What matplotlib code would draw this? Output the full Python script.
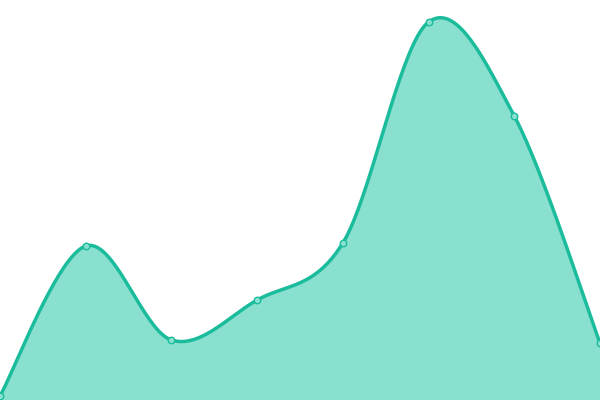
import numpy as np
import matplotlib
matplotlib.use("Agg")
import matplotlib.pyplot as plt

# data (bottom of the chart = 0)
x_vals = [0, 1, 2, 3, 4, 5, 6, 7]
y_vals = [4, 154, 60, 100, 157, 378, 284, 57]

line_color = "#1abc9c"
fill_color = "#89e0cf"


def catmull_rom(xs, ys, steps=40):
    # cardinal spline with tension 0, endpoints duplicated
    xs = np.asarray(xs, dtype=float)
    ys = np.asarray(ys, dtype=float)
    px = np.concatenate([[xs[0]], xs, [xs[-1]]])
    py = np.concatenate([[ys[0]], ys, [ys[-1]]])
    out_x, out_y = [], []
    t = np.linspace(0, 1, steps)
    h00 = 2 * t**3 - 3 * t**2 + 1
    h10 = t**3 - 2 * t**2 + t
    h01 = -2 * t**3 + 3 * t**2
    h11 = t**3 - t**2
    for i in range(1, len(px) - 2):
        mx0 = (px[i + 1] - px[i - 1]) / 2
        mx1 = (px[i + 2] - px[i]) / 2
        my0 = (py[i + 1] - py[i - 1]) / 2
        my1 = (py[i + 2] - py[i]) / 2
        out_x.append(h00 * px[i] + h10 * mx0 + h01 * px[i + 1] + h11 * mx1)
        out_y.append(h00 * py[i] + h10 * my0 + h01 * py[i + 1] + h11 * my1)
    return np.concatenate(out_x), np.concatenate(out_y)


sx, sy = catmull_rom(x_vals, y_vals)

fig = plt.figure(figsize=(6, 4), dpi=100)
ax = fig.add_axes([0, 0, 1, 1])
ax.fill_between(sx, 0, sy, color=fill_color, linewidth=0)
ax.plot(sx, sy, color=line_color, linewidth=2.5, solid_capstyle="round")
ax.scatter(x_vals, y_vals, s=22, color=fill_color, edgecolor=line_color,
           linewidth=1, zorder=3, clip_on=True)
ax.set_xlim(0, 7)
ax.set_ylim(0, 400)
ax.axis("off")

fig.savefig("out.png", dpi=100)
